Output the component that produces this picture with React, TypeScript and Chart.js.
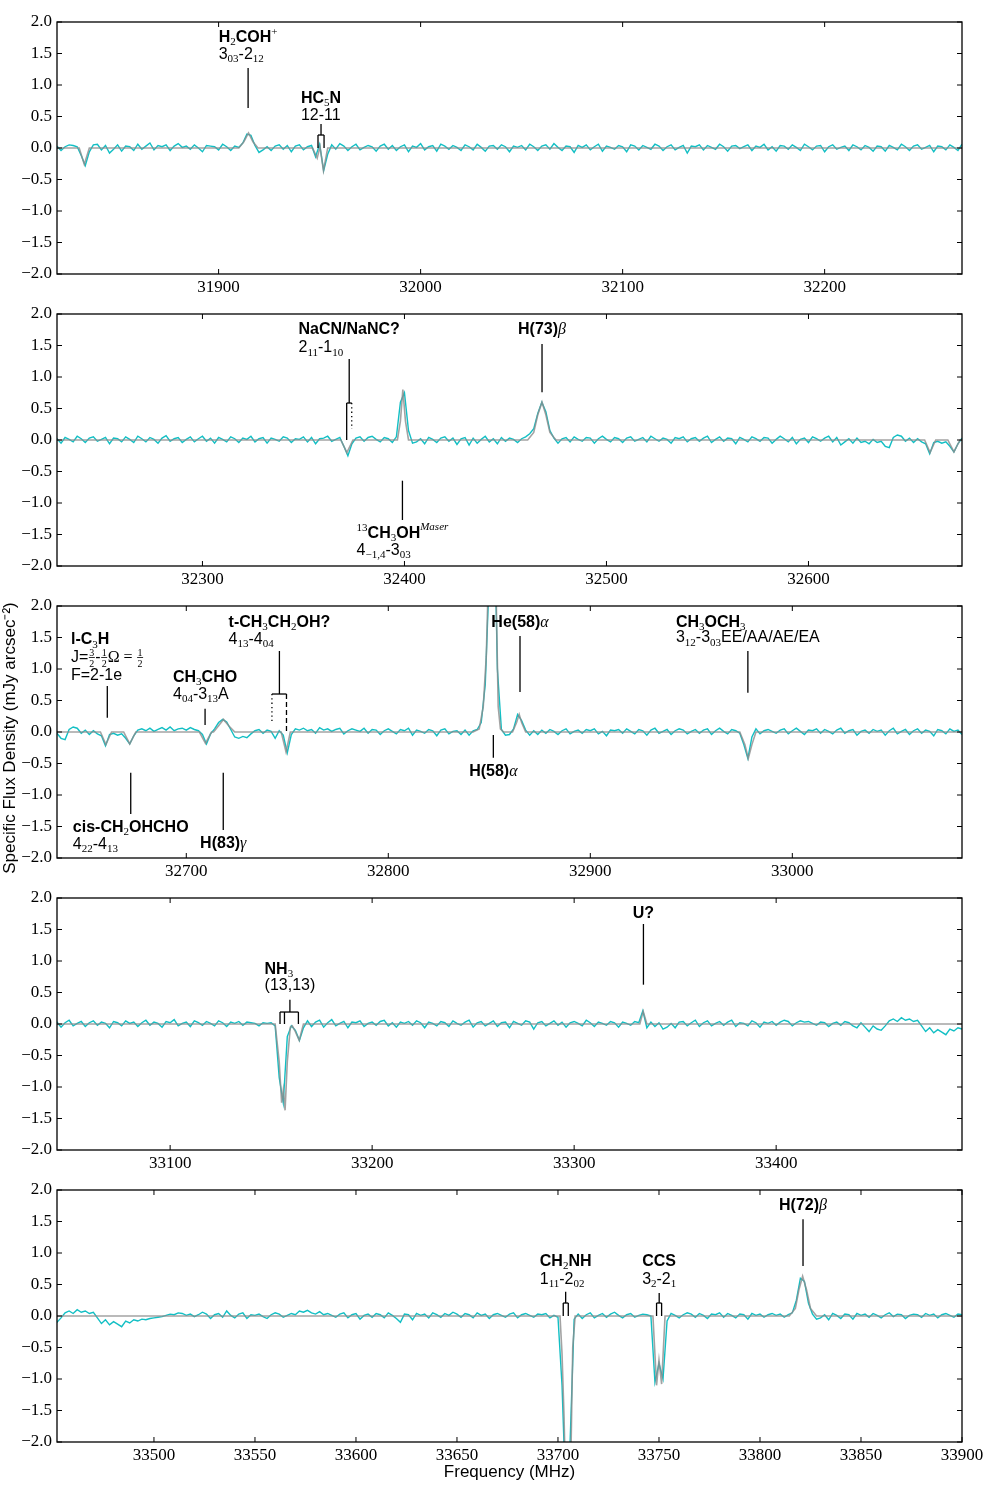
import React, { useEffect, useRef } from "react";
import { Chart, registerables } from "chart.js";

Chart.register(...registerables);

// ---------------- DATA ----------------
const CHANNEL_WIDTH_MHZ = 2;
const FLUX_UNIT = 0.01; // spectrum values are stored in units of 0.01 mJy arcsec^-2

const SPEC_A_START = 31820;
const SPEC_A = [
  3, -4, 2, 5, 4, 2, -12, -28, -6, 5, 6, -3, 4, -8, -2, 5, -5, 3, 2, -4,
  6, -2, 3, 8, -3, 4, 2, 5, -4, 3, 7, 1, 3, -2, 5, 0, -6, 4, 3, 2,
  -3, 6, 2, -4, 3, 1, 8, 22, 20, 4, -7, -3, 2, -4, 3, 5, -2, 4, -6, 3,
  5, -3, 2, 4, -14, 6, -36, -10, 5, -2, 7, 3, -4, 2, 6, -3, 1, 4, 2, -5,
  3, 6, -2, 4, -4, 2, 5, -6, 3, 1, 7, -3, 2, 4, -5, 6, 3, -2, 4, 1,
  -4, 5, 2, -3, 6, 1, -5, 3, 4, -2, 5, 2, -6, 3, 1, 4, -3, 6, 2, -4,
  3, 5, -2, 7, 1, -4, 3, 2, -7, 4, 1, 5, -3, 2, 6, -5, 3, 1, -2, 4,
  2, -6, 5, 3, -3, 4, 1, -2, 6, 3, -4, 2, 5, -3, 1, 4, -8, 3, 2, 5,
  -3, 4, 1, -2, 6, 2, -5, 3, 4, -1, 2, 5, -4, 3, 1, 6, -3, 2, -5, 4,
  3, -2, 5, 1, -4, 6, 2, -3, 3, 4, -6, 2, 5, -2, 1, 3, -4, 5, 2, -3,
  4, 1, -5, 3,
];

const SPEC_B_START = 32228;
const SPEC_B = [
  2, -5, 4, 1, -3, 6, 2, -4, 3, 5, -2, 1, 4, -6, 3, 2, -3, 5, 1, -4,
  6, 2, -3, 4, 1, -5, 3, 7, -2, 2, 4, -4, 1, 5, -3, 2, 6, -2, 3, -5,
  4, 1, -3, 5, 2, -4, 3, 1, 6, -3, 2, 4, -5, 3, 1, -2, 5, 3, -4, 2,
  1, 5, -3, 4, -6, 2, 3, 6, -2, 1, 4, -10, -25, -6, 3, 5, -2, 4, 6, 1,
  -3, 4, 2, -4, 5, 60, 75, 15, -5, -3, 2, -6, 4, 1, -4, 3, 5, -2, 3, -7,
  2, 4, -8, 3, -5, 1, 6, -3, 2, -6, 4, -2, 3, 1, -4, 2, 5, 10, 18, 42,
  60, 45, 15, 3, -5, 2, 4, -3, 5, 1, -2, 4, 3, -5, 2, 6, 1, -3, 4, 2,
  -4, 3, 5, -2, 1, 4, -3, 6, 2, -2, 3, 1, -5, 4, 2, 5, -3, 2, 4, -2,
  3, 6, -4, 1, 5, -2, 3, 2, -6, 4, 1, -3, 5, 2, -2, 4, 3, -5, 1, 6,
  2, -3, 4, -6, 1, 3, -4, 5, 2, -2, 3, 6, -3, 4, -8, -3, 2, -5, 3, -4,
  -2, -6, 1, -4,
];

const SPEC_C_START = 32636;
const SPEC_C = [
  -2, -10, -12, 4, 8, 6, -2, 3, -4, 2, -3, -6, -22, -4, -2, -5, -3, -10, -19, -6,
  3, 5, 2, 6, 1, 4, 7, 3, 8, 2, 5, 6, 3, 7, 4, 2, -4, -19, -3, 5,
  15, 20, 16, 4, -8, -10, -7, -9, -3, 2, 4, -2, 3, 1, -10, 2, -5, -33, -4, 5,
  3, 6, 2, 4, -2, 7, 3, 5, 1, 4, 6, -3, 2, 5, 3, 1, 6, -2, 4, 3,
  -4, 2, 5, 1, -3, 4, 2, 6, -5, 3, 1, -2, 4, 2, -6, 3, 5, -3, 1, 2,
  -4, 3, -5, 2, 4, 15, 75, 250, 420, 100, 4, -5, -4, 5, 28, 18, 3, -5, 2, -4,
  3, -2, 4, 1, -4, 2, 5, -3, 1, 3, -2, 4, 2, 5, -3, 1, -6, 3, 2, 4,
  -2, 5, 1, -3, 4, 2, -5, 3, 6, -2, 1, 4, -4, 2, 5, 3, -3, 1, 4, -2,
  3, 5, -4, 2, 6, 1, -3, 4, 2, -2, -20, -42, -8, 5, -3, 2, 4, 1, -2, 3,
  5, -3, 2, 6, 1, -4, 3, 2, 5, -2, 4, 1, -3, 3, 6, -2, 2, 4, -5, 1,
  3, -2, 4, 1,
];

const SPEC_D_START = 33044;
const SPEC_D = [
  3, -5, 2, 6, -3, 1, 4, -4, 2, 5, -2, 3, 1, -6, 4, 2, -3, 5, 1, 3,
  -4, 2, 6, -2, 3, 1, -5, 4, 2, 7, -3, 1, 3, -4, 5, 2, -2, 4, 1, -3,
  5, 2, -4, 3, 1, 4, -2, 3, 2, 1, -3, 2, 1, 2, -3, -85, -125, -20, -3, -10,
  -26, -6, 5, -4, 3, 6, -5, 2, 7, -3, 1, 4, -6, 3, 2, 5, -4, 1, 3, -2,
  4, 6, -3, 2, -5, 3, 1, 4, -2, 5, 2, -6, 3, 1, -3, 4, 2, -4, 5, 1,
  -2, 3, 6, -5, 2, 4, -3, 1, 5, -4, 2, 3, -6, 4, 1, -2, 5, 3, -8, 2,
  4, -3, 1, 5, -2, 3, -5, 2, 4, 1, -3, 6, 2, -4, 3, 1, -2, 4, 2, -5,
  3, 1, -2, 4, 2, 21, -6, 3, -4, 2, -8, -5, 1, -6, 3, 4, -3, 2, 6, -4,
  2, 5, -3, 1, 4, -2, 3, 6, -4, 2, 1, -3, 5, 2, -5, 3, 1, 4, -2, 3,
  6, 4, -3, 2, 5, 3, 4, 1, -2, 3, 2, -4, 1, 3, -2, 4, 2, -3, -6, 2,
  -5, -12, -3, -8,
];

const SPEC_E_START = 33452;
const SPEC_E = [
  -10, -3, 5, 8, 4, 10, 6, 8, 4, 6, -3, -12, -6, -14, -9, -13, -17, -8, -11, -6,
  -8, -5, -6, -4, -3, -2, -1, 1, 3, 2, 5, 4, 1, 3, -1, 2, 6, 3, -4, 2,
  4, -2, 8, 1, -3, 3, 5, -4, 2, 1, 3, -1, -4, 2, 5, 3, -2, 1, 4, 2,
  8, 6, 9, 5, 3, 7, 2, 4, 1, -2, 3, 5, -3, 2, 4, -5, 1, 3, -2, 4,
  2, -3, 5, 1, -4, -10, 3, 2, -6, 4, 1, 3, -3, 5, 2, -2, 4, 1, 6, 3,
  -2, 4, 2, -3, 5, 1, 3, -4, 2, 4, 1, -2, 3, 5, -3, 2, 4, 1, -2, 3,
  2, 4, -3, 1, -2, -110, -300, -200, -5, 3, -4, 2, 5, -3, 1, 4, -2, 3, 6, 1,
  -3, 2, 4, -2, 1, 3, 2, 0, -105, -75, -100, -8, 4, 1, -3, 2, 5, 3, -2, 4,
  1, -4, 3, 2, 5, -2, 4, 1, -3, 3, 2, -5, 4, 1, 3, -2, 2, 4, 1, 3,
  -2, 2, 5, 25, 60, 55, 20, 3, -5, -3, 2, -6, 4, 1, -4, 3, 2, -5, 4, 1,
  3, -2, 4, 1, -3, 2, 5, -1, 3, 2, -4, 1, 3, 2, -2, 4, 1, 3, -3, 2,
  4, 1, -2, 3, 2,
];

// model (grey) spectrum: frequency (MHz) and flux (mJy arcsec^-2)
const MODEL_FREQ = [
  31820,
  31831, 31833.5, 31836,
  31910, 31912.5, 31914.8, 31917, 31919.5,
  31946.5, 31948.8, 31950.2, 31951.9, 31954,
  32368.5, 32371.5, 32374.5,
  32396.5, 32398, 32399.2, 32400.5, 32402,
  32461, 32464, 32466, 32468.1, 32470, 32472, 32475,
  32657.5, 32660.2, 32663,
  32669, 32672, 32675,
  32706.5, 32709.5, 32712.5,
  32713.5, 32716, 32718.4, 32721, 32724,
  32747, 32749.4, 32751.5,
  32842, 32845, 32847, 32848.5, 32850, 32851.3, 32853.2, 32854.4, 32855.5, 32857,
  32861.5, 32863.5, 32864.8, 32866, 32868,
  32974, 32976.5, 32978.2, 32980, 32982,
  33152, 33154, 33155.2, 33156, 33156.9, 33158, 33159.5, 33160.5, 33162, 33163.9, 33166,
  33332.5, 33334.2, 33336,
  33701, 33702, 33703, 33704, 33706, 33707.3, 33708.5,
  33747, 33748.8, 33750, 33751.3, 33753,
  33814.5, 33817.5, 33819.3, 33821.1, 33823, 33825, 33828,
  33900,
];
const MODEL_FLUX = [
  0,
  0, -0.26, 0,
  0, 0.1, 0.24, 0.1, 0,
  0, -0.16, 0.02, -0.36, 0,
  0, -0.2, 0,
  0, 0.3, 0.8, 0.3, 0,
  0, 0.12, 0.4, 0.6, 0.4, 0.12, 0,
  0, -0.2, 0,
  0, -0.19, 0,
  0, -0.18, 0,
  0, 0.1, 0.2, 0.1, 0,
  0, -0.32, 0,
  0, 0.05, 0.4, 1.2, 3.0, 4.0, 2.5, 0.4, 0.05, 0,
  0, 0.15, 0.28, 0.15, 0,
  0, -0.2, -0.42, -0.2, 0,
  0, -0.6, -1.25, -1.05, -1.37, -0.6, -0.05, -0.03, -0.12, -0.26, 0,
  0, 0.2, 0,
  0, -0.6, -1.6, -3.0, -3.0, -0.5, 0,
  0, -1.1, -0.7, -1.08, 0,
  0, 0.12, 0.42, 0.63, 0.42, 0.12, 0,
  0,
];

const PANEL_MIN = [31820, 32228, 32636, 33044, 33452];
const PANEL_MAX = [32268, 32676, 33084, 33492, 33900];
const X_TICKS = [
  [31900, 32000, 32100, 32200],
  [32300, 32400, 32500, 32600],
  [32700, 32800, 32900, 33000],
  [33100, 33200, 33300, 33400],
  [33500, 33550, 33600, 33650, 33700, 33750, 33800, 33850, 33900],
];
const Y_TICKS = [-2, -1.5, -1, -0.5, 0, 0.5, 1, 1.5, 2];

const Y_TITLE = "Specific Flux Density (mJy arcsec\u207B\u00B2)";
const X_TITLE = "Frequency (MHz)";

// line identifications
type Leg = { x: number; to?: number; dash?: string };
type Ann = { p: number; x: number; y0: number; y1: number; ty: number; lines: string[]; gap?: number; bracket?: number; legs?: Leg[] };
const ANNOTATIONS: Ann[] = [
  { p: 0, x: 31914.6, y0: 0.635, y1: 1.27, ty: 1.778, lines: ["H_{2}COH^{+}", "3_{03}-2_{12}"] },
  { p: 0, x: 31950.7, y0: 0.206, y1: 0.381, ty: 0.81, lines: ["HC_{5}N", "12-11"], bracket: 0.206, legs: [{ x: 31949.2 }, { x: 31952.2 }] },
  { p: 1, x: 32372.65, y0: 0.587, y1: 1.286, ty: 1.778, gap: 18.5, lines: ["NaCN/NaNC?", "2_{11}-1_{10}"], bracket: 0.587, legs: [{ x: 32371.4, to: 0 }, { x: 32373.9, to: 0.175, dash: "dotted" }] },
  { p: 1, x: 32399, y0: -0.646, y1: -1.27, ty: -1.46, lines: ["^{13}CH_{3}OH^i{Maser}", "4_{\u22121,4}-3_{03}"] },
  { p: 1, x: 32468.1, y0: 0.757, y1: 1.524, ty: 1.778, lines: ["H(73)\\g{\u03B2}"] },
  { p: 2, x: 32660.9, y0: 0.227, y1: 0.73, ty: 1.492, gap: 18, lines: ["l-C_{3}H", "J=\\f{3|2}-\\f{1|2}\\m{\u03A9 = }\\f{1|2}", "F=2-1e"] },
  { p: 2, x: 32672.5, y0: -0.646, y1: -1.3, ty: -1.49, lines: ["cis-CH_{2}OHCHO", "4_{22}-4_{13}"] },
  { p: 2, x: 32709.3, y0: 0.111, y1: 0.37, ty: 0.889, lines: ["CH_{3}CHO", "4_{04}-3_{13}A"] },
  { p: 2, x: 32718.3, y0: -0.646, y1: -1.556, ty: -1.746, lines: ["H(83)\\g{\u03B3}"] },
  { p: 2, x: 32746.1, y0: 0.603, y1: 1.286, ty: 1.762, lines: ["t-CH_{3}CH_{2}OH?", "4_{13}-4_{04}"], bracket: 0.603, legs: [{ x: 32742.4, to: 0.175, dash: "dotted" }, { x: 32749.6, to: 0, dash: "dashed" }] },
  { p: 2, x: 32852.0, y0: -0.048, y1: -0.408, ty: -0.603, lines: ["H(58)\\g{\u03B1}"] },
  { p: 2, x: 32865.2, y0: 0.635, y1: 1.524, ty: 1.762, lines: ["He(58)\\g{\u03B1}"] },
  { p: 2, x: 32978.0, y0: 0.624, y1: 1.286, ty: 1.762, gap: 15.5, lines: ["CH_{3}OCH_{3}", "3_{12}-3_{03}EE/AA/AE/EA"] },
  { p: 3, x: 33159.3, y0: 0.19, y1: 0.386, ty: 0.889, gap: 16.5, lines: ["NH_{3}", "(13,13)"], bracket: 0.19, legs: [{ x: 33154.4 }, { x: 33156.6 }, { x: 33163.5 }] },
  { p: 3, x: 33334.3, y0: 0.624, y1: 1.587, ty: 1.778, lines: ["U?"] },
  { p: 4, x: 33703.8, y0: 0.206, y1: 0.386, ty: 0.889, gap: 18, lines: ["CH_{2}NH", "1_{11}-2_{02}"], bracket: 0.206, legs: [{ x: 33702.6 }, { x: 33705.1 }] },
  { p: 4, x: 33750.1, y0: 0.206, y1: 0.365, ty: 0.889, gap: 18, lines: ["CCS", "3_{2}-2_{1}"], bracket: 0.206, legs: [{ x: 33748.8 }, { x: 33751.3 }] },
  { p: 4, x: 33821.3, y0: 0.794, y1: 1.535, ty: 1.778, lines: ["H(72)\\g{\u03B2}"] },
];

// ---------------- STYLE / GEOMETRY ----------------
const CYAN = "#12bfc4";
const GREY = "rgba(140,140,140,0.8)";
const SANS = '"Liberation Sans", Arial, Helvetica, sans-serif';
const SERIF = '"Liberation Serif", "Times New Roman", serif';
const AREA_TOP = [22, 314, 606, 898, 1190];
const AREA_H = 252;
const PAD_TOP = 20;
const XAXIS_H = [32, 32, 32, 32, 44];
const Y_AXIS_W = 57;
const PAD_RIGHT = 38;

const SPECTRUM_SEGMENTS = [
  { start: SPEC_A_START, values: SPEC_A },
  { start: SPEC_B_START, values: SPEC_B },
  { start: SPEC_C_START, values: SPEC_C },
  { start: SPEC_D_START, values: SPEC_D },
  { start: SPEC_E_START, values: SPEC_E },
];

const spectrumPoints = SPECTRUM_SEGMENTS.flatMap((seg) =>
  seg.values.map((v, i) => ({ x: seg.start + i * CHANNEL_WIDTH_MHZ, y: v * FLUX_UNIT }))
);
const modelPoints = MODEL_FREQ.map((f, i) => ({ x: f, y: MODEL_FLUX[i] }));

// ---------------- rich text ----------------
type Seg = { k: string; t: string; d?: string };
function parseRich(s: string): Seg[] {
  const out: Seg[] = [];
  let buf = "";
  let i = 0;
  const flush = () => {
    if (buf) {
      out.push({ k: "p", t: buf });
      buf = "";
    }
  };
  const group = (start: number): [string, number] => {
    const end = s.indexOf("}", start);
    return [s.slice(start, end), end + 1];
  };
  const tags: [string, string][] = [
    ["^i{", "supi"],
    ["_{", "sub"],
    ["^{", "sup"],
    ["\\g{", "g"],
    ["\\m{", "m"],
    ["\\f{", "frac"],
  ];
  while (i < s.length) {
    let matched = false;
    for (const [tag, kind] of tags) {
      if (s.startsWith(tag, i)) {
        flush();
        const [g, n] = group(i + tag.length);
        if (kind === "frac") {
          const [a, b] = g.split("|");
          out.push({ k: "frac", t: a, d: b });
        } else out.push({ k: kind, t: g });
        i = n;
        matched = true;
        break;
      }
    }
    if (!matched) {
      buf += s[i];
      i++;
    }
  }
  flush();
  return out;
}

function fontFor(k: string, bold: boolean): string {
  switch (k) {
    case "p":
      return (bold ? "bold " : "") + "16px " + SANS;
    case "sub":
    case "sup":
      return "11px " + SERIF;
    case "supi":
      return "italic 11px " + SERIF;
    case "g":
      return "italic 16px " + SERIF;
    case "m":
      return "16px " + SERIF;
    default:
      return "10px " + SERIF;
  }
}

function segWidth(ctx: CanvasRenderingContext2D, seg: Seg, bold: boolean): number {
  ctx.font = fontFor(seg.k, bold);
  if (seg.k === "frac") return Math.max(ctx.measureText(seg.t).width, ctx.measureText(seg.d || "").width) + 2;
  return ctx.measureText(seg.t).width;
}

function drawRichLine(ctx: CanvasRenderingContext2D, segs: Seg[], bold: boolean, x: number, base: number) {
  let cx = x;
  for (const seg of segs) {
    const w = segWidth(ctx, seg, bold);
    ctx.font = fontFor(seg.k, bold);
    if (seg.k === "frac") {
      ctx.textAlign = "center";
      ctx.fillText(seg.t, cx + w / 2, base - 6.5);
      ctx.fillText(seg.d || "", cx + w / 2, base + 4.5);
      ctx.fillRect(cx + 0.5, base - 5, w - 1, 0.8);
      ctx.textAlign = "left";
    } else {
      let off = 0;
      if (seg.k === "sub") off = 3.5;
      if (seg.k === "sup") off = -7;
      if (seg.k === "supi") off = -8;
      ctx.fillText(seg.t, cx, base + off);
    }
    cx += w;
  }
}

function fmtY(v: number): string {
  return (v < 0 ? "\u2212" : "") + Math.abs(v).toFixed(1);
}

// ---------------- plugin ----------------
function overlayPlugin(p: number) {
  return {
    id: "overlay" + p,
    afterDatasetsDraw(chart: any) {
      const ctx: CanvasRenderingContext2D = chart.ctx;
      const a = chart.chartArea;
      const xs = chart.scales.x;
      const ys = chart.scales.y;
      ctx.save();
      ctx.strokeStyle = "#000";
      ctx.fillStyle = "#000";
      ctx.textBaseline = "alphabetic";
      ctx.textAlign = "left";

      for (const an of ANNOTATIONS) {
        if (an.p !== p) continue;
        const px = xs.getPixelForValue(an.x);
        ctx.lineWidth = 1.3;
        ctx.setLineDash([]);
        ctx.beginPath();
        ctx.moveTo(px, ys.getPixelForValue(an.y0));
        ctx.lineTo(px, ys.getPixelForValue(an.y1));
        ctx.stroke();
        if (an.legs && an.bracket !== undefined) {
          const by = ys.getPixelForValue(an.bracket);
          const lx = an.legs.map((l) => xs.getPixelForValue(l.x));
          ctx.beginPath();
          ctx.moveTo(Math.min(...lx), by);
          ctx.lineTo(Math.max(...lx), by);
          ctx.stroke();
          an.legs.forEach((l, i) => {
            ctx.setLineDash(l.dash === "dotted" ? [1.3, 3] : l.dash === "dashed" ? [5, 3] : []);
            ctx.beginPath();
            ctx.moveTo(lx[i], by);
            ctx.lineTo(lx[i], ys.getPixelForValue(l.to ?? 0));
            ctx.stroke();
          });
          ctx.setLineDash([]);
        }
        // text block
        const parsed = an.lines.map((l) => parseRich(l));
        const widths = parsed.map((segs, j) => segs.reduce((s, seg) => s + segWidth(ctx, seg, j === 0), 0));
        const bw = Math.max(...widths);
        const sx = px - bw / 2;
        const c0 = ys.getPixelForValue(an.ty);
        const gap = an.gap ?? 17;
        parsed.forEach((segs, j) => {
          drawRichLine(ctx, segs, j === 0, sx, c0 + j * gap + 6);
        });
      }

      // frame
      ctx.setLineDash([]);
      ctx.lineWidth = 1.3;
      ctx.strokeRect(a.left, a.top, a.right - a.left, a.bottom - a.top);
      // inward ticks
      ctx.lineWidth = 1;
      ctx.beginPath();
      for (const v of X_TICKS[p]) {
        const x = xs.getPixelForValue(v);
        ctx.moveTo(x, a.bottom);
        ctx.lineTo(x, a.bottom - 5);
        ctx.moveTo(x, a.top);
        ctx.lineTo(x, a.top + 5);
      }
      for (const v of Y_TICKS) {
        const y = ys.getPixelForValue(v);
        ctx.moveTo(a.left, y);
        ctx.lineTo(a.left + 5, y);
        ctx.moveTo(a.right, y);
        ctx.lineTo(a.right - 5, y);
      }
      ctx.stroke();

      // axis titles
      ctx.font = "17px " + SANS;
      ctx.textAlign = "center";
      ctx.textBaseline = "middle";
      if (p === 2) {
        ctx.save();
        ctx.translate(10, 738 - (AREA_TOP[2] - PAD_TOP));
        ctx.rotate(-Math.PI / 2);
        ctx.fillText(Y_TITLE, 0, 0);
        ctx.restore();
      }
      if (p === 4) {
        ctx.fillText(X_TITLE, (a.left + a.right) / 2, 1472 - (AREA_TOP[4] - PAD_TOP));
      }
      ctx.restore();
    },
  };
}

function buildConfig(p: number): any {
  const tickFont = { family: SERIF, size: 17 };
  return {
    type: "line",
    data: {
      datasets: [
        { data: spectrumPoints, borderColor: CYAN, borderWidth: 1.4, pointRadius: 0, tension: 0, order: 2 },
        { data: modelPoints, borderColor: GREY, borderWidth: 1.6, pointRadius: 0, tension: 0, order: 1 },
      ],
    },
    options: {
      animation: false,
      responsive: false,
      devicePixelRatio: 1,
      events: [],
      layout: { padding: { left: 0, right: PAD_RIGHT, top: PAD_TOP, bottom: 0 } },
      plugins: { legend: { display: false }, tooltip: { enabled: false }, title: { display: false } },
      scales: {
        x: {
          type: "linear",
          min: PANEL_MIN[p],
          max: PANEL_MAX[p],
          grid: { display: false, drawTicks: false },
          border: { display: false },
          afterBuildTicks: (s: any) => {
            s.ticks = X_TICKS[p].map((v) => ({ value: v }));
          },
          afterFit: (s: any) => {
            s.height = XAXIS_H[p];
          },
          ticks: {
            font: tickFont,
            color: "#000",
            padding: 3,
            maxRotation: 0,
            autoSkip: false,
            callback: (v: any) => String(v),
          },
        },
        y: {
          type: "linear",
          min: -2,
          max: 2,
          grid: { display: false, drawTicks: false },
          border: { display: false },
          afterBuildTicks: (s: any) => {
            s.ticks = Y_TICKS.map((v) => ({ value: v }));
          },
          afterFit: (s: any) => {
            s.width = Y_AXIS_W;
          },
          ticks: {
            font: tickFont,
            color: "#000",
            padding: 5,
            autoSkip: false,
            callback: (v: any) => fmtY(Number(v)),
          },
        },
      },
    },
    plugins: [overlayPlugin(p)],
  };
}

function Panel({ index }: { index: number }) {
  const ref = useRef<HTMLCanvasElement | null>(null);
  const h = PAD_TOP + AREA_H + XAXIS_H[index];
  useEffect(() => {
    if (!ref.current) return;
    const chart = new Chart(ref.current, buildConfig(index));
    return () => chart.destroy();
  }, [index]);
  return (
    <canvas
      ref={ref}
      width={1000}
      height={h}
      style={{ position: "absolute", left: 0, top: AREA_TOP[index] - PAD_TOP, width: 1000, height: h }}
    />
  );
}

export default function App() {
  return (
    <div style={{ position: "absolute", left: 0, top: 0, width: 1000, height: 1500, background: "#fff" }}>
      {[0, 1, 2, 3, 4].map((i) => (
        <Panel key={i} index={i} />
      ))}
    </div>
  );
}
